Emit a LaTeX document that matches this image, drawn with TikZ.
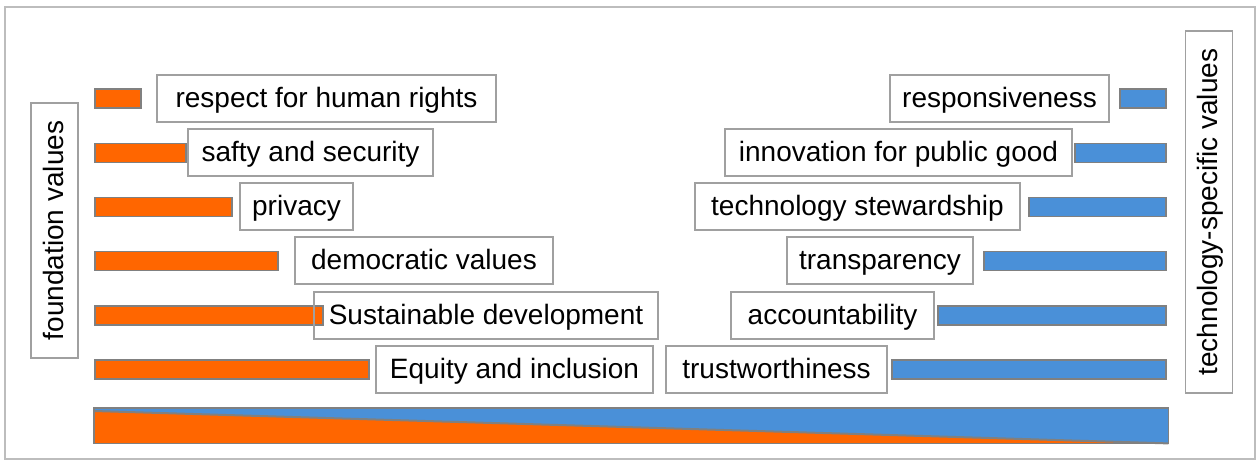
\documentclass[tikz,border=0pt]{standalone}
\usepackage{fontspec}
\setmainfont{Liberation Sans}
\definecolor{borange}{HTML}{FF6600}
\definecolor{bblue}{HTML}{4A90D8}
\definecolor{bgray}{HTML}{808080}
\definecolor{boxgray}{HTML}{A0A0A0}
\begin{document}
\begin{tikzpicture}[x=1pt,y=-1pt,
  tbox/.style={draw=boxgray, line width=1.2pt, minimum height=47pt, inner sep=0pt, text height=21pt, text depth=4pt, font=\fontsize{28}{32}\selectfont, text=black},
  obar/.style={draw=bgray, line width=1.8pt, fill=borange, minimum height=19pt, inner sep=0pt, anchor=west},
  bbar/.style={draw=bgray, line width=1.8pt, fill=bblue, minimum height=19pt, inner sep=0pt, anchor=east}]
\useasboundingbox (0,0) rectangle (1260,461);
\draw[draw=boxgray!70, line width=1.5pt] (5,7) rectangle (1255,459);
% bars left
\node[obar, minimum width=46pt] (bl1) at (94,98.5) {};
\node[obar, minimum width=91pt] (bl2) at (94,153) {};
\node[obar, minimum width=137pt] (bl3) at (94,207) {};
\node[obar, minimum width=183pt] (bl4) at (94,261) {};
\node[obar, minimum width=228pt] (bl5) at (94,315.5) {};
\node[obar, minimum width=274pt] (bl6) at (94,369.5) {};
% bars right
\node[bbar, minimum width=46pt] (br1) at (1167,98.5) {};
\node[bbar, minimum width=91pt] (br2) at (1167,153) {};
\node[bbar, minimum width=137pt] (br3) at (1167,207) {};
\node[bbar, minimum width=182pt] (br4) at (1167,261) {};
\node[bbar, minimum width=228pt] (br5) at (1167,315.5) {};
\node[bbar, minimum width=274pt] (br6) at (1167,369.5) {};
% bottom bar
\node[draw=none, minimum width=1074pt, minimum height=35pt, inner sep=0pt, anchor=north west] (bot) at (94,408) {};
\fill[bblue] (bot.north west) rectangle (bot.south east);
\fill[borange] ([yshift=-3pt]bot.north west) -- (bot.south east) -- (bot.south west) -- cycle;
\draw[bgray, line width=2pt] ([yshift=-3pt]bot.north west) -- (bot.south east);
\draw[bgray, line width=1.8pt] (bot.north west) rectangle (bot.south east);
% left boxes
\node[tbox, minimum width=339pt] (l1) at (326.5,98.5) {respect for human rights};
\node[tbox, minimum width=245pt] (l2) at (310.5,152.5) {safty and security};
\node[tbox, minimum width=113pt] (l3) at (296.5,206.5) {privacy};
\node[tbox, minimum width=258pt] (l4) at (424,260.5) {democratic values};
\node[tbox, minimum width=344pt] (l5) at (486,315.5) {Sustainable development};
\node[tbox, minimum width=277pt] (l6) at (514.5,369.5) {Equity and inclusion};
% right boxes
\node[tbox, minimum width=219pt] (r1) at (999.5,98.5) {responsiveness};
\node[tbox, minimum width=347pt] (r2) at (898.5,152.5) {innovation for public good};
\node[tbox, minimum width=325pt] (r3) at (857.5,206.5) {technology stewardship};
\node[tbox, minimum width=186pt] (r4) at (880,260.5) {transparency};
\node[tbox, minimum width=203pt] (r5) at (832.5,315.5) {accountability};
\node[tbox, minimum width=221pt] (r6) at (776.5,369.5) {trustworthiness};
% vertical labels
\node[tbox, rotate=90, minimum width=255pt] (fv) at (54.5,230.5) {foundation values};
\node[tbox, rotate=90, minimum width=362pt] (tv) at (1209,212) {technology-specific values};
\end{tikzpicture}
\end{document}
